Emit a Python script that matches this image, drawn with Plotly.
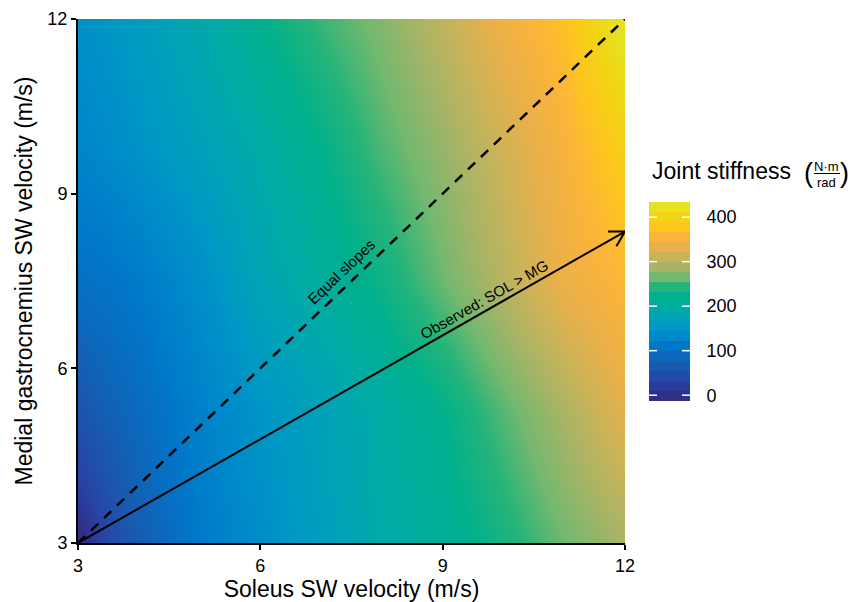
import numpy as np
import plotly.graph_objects as go

# ---------------- data ----------------
sol_velocity = [3, 3.5, 4, 5, 6, 7, 8, 9, 10, 11, 12]          # x (m/s)
mg_velocity = [3, 4, 5.25, 7.5, 9.75, 12]                      # y (m/s)
stiffness = [                                                  # N·m/rad
    [-13, 40, 70, 112, 140, 165, 192, 210, 235, 265, 292],
    [25, 55, 80, 118, 145, 170, 196, 215, 245, 278, 308],
    [55, 75, 90, 122, 150, 172, 198, 222, 258, 292, 330],
    [100, 105, 114, 142, 178, 205, 230, 265, 300, 338, 360],
    [128, 136, 147, 170, 195, 222, 255, 282, 315, 350, 392],
    [142, 152, 164, 190, 220, 250, 274, 305, 342, 372, 434],
]
axis_ticks = [3, 6, 9, 12]
cbar_ticks = [0, 100, 200, 300, 400]
equal_x = [3, 12]
equal_y = [3, 12]
observed_x = [3, 12]
observed_y = [3, 8.35]
equal_label = "Equal slopes"
observed_label = "Observed: SOL > MG"

# parula-like band colours, bottom -> top
band_colors = ["#322e84", "#2c3c9c", "#244aa8", "#185ab0", "#0c68bc",
               "#0078c8", "#0088ca", "#0098c4", "#00a4b6", "#00aca2",
               "#00b08c", "#26b47a", "#72b86f", "#a5b467", "#c9b359",
               "#e9b04a", "#fbb43a", "#fdc61e", "#f2d414", "#e6e21f"]

zmin = float(np.min(stiffness))
zmax = float(np.max(stiffness))
nb = len(band_colors)
smooth_scale = [[0.0, band_colors[0]]]
for i, c in enumerate(band_colors):
    smooth_scale.append([(i + 0.5) / nb, c])
smooth_scale.append([1.0, band_colors[-1]])
step_scale = []
for i, c in enumerate(band_colors):
    step_scale.append([i / nb, c])
    step_scale.append([(i + 1) / nb, c])
band_centers = [zmin + (i + 0.5) * (zmax - zmin) / nb for i in range(nb)]

FONT = "Liberation Sans, Arial, Helvetica, sans-serif"
W, H = 848, 602
ML, MR, MT, MB = 78, 0, 19, 59
PW, PH = W - ML - MR, H - MT - MB
MAIN_W = 547                       # plot area width in px
xr = [3, 12]
yr = [3, 12]
ppx = MAIN_W / (xr[1] - xr[0])
ppy = PH / (yr[1] - yr[0])


def px2paper(px, py):
    return (px - ML) / PW, (H - MB - py) / PH


fig = go.Figure()
fig.add_trace(go.Heatmap(x=sol_velocity, y=mg_velocity, z=stiffness,
                         zsmooth="best", zmin=zmin, zmax=zmax,
                         colorscale=smooth_scale, showscale=False,
                         hoverinfo="skip"))

# colour bar drawn as its own banded heatmap on a side axis
CB_LEFT, CB_BOTTOM, CB_W, CB_TOP = 649, 401, 41, 202
cx0, cy0 = px2paper(CB_LEFT, CB_BOTTOM)
cx1, cy1 = px2paper(CB_LEFT + CB_W, CB_TOP)
fig.add_trace(go.Heatmap(x=[0], y=band_centers, z=[[v] for v in band_centers],
                         zmin=zmin, zmax=zmax, colorscale=step_scale, showscale=False,
                         xaxis="x2", yaxis="y2", hoverinfo="skip"))

# equal slopes (dashed)
fig.add_trace(go.Scatter(x=equal_x, y=equal_y, mode="lines", showlegend=False,
                         line=dict(color="black", width=2.5, dash="10px,8px"),
                         hoverinfo="skip"))
# observed (arrow)
fig.add_trace(go.Scatter(x=observed_x, y=observed_y, mode="lines", showlegend=False,
                         line=dict(color="black", width=2), hoverinfo="skip"))
# open arrow head
dxp = (observed_x[1] - observed_x[0]) * ppx
dyp = (observed_y[1] - observed_y[0]) * ppy
ang = np.arctan2(dyp, dxp) + np.pi
L = 17
hx, hy = [], []
for s in (-1, 1):
    a = ang + s * np.pi / 6
    hx.append(observed_x[1] + L * np.cos(a) / ppx)
    hy.append(observed_y[1] + L * np.sin(a) / ppy)
fig.add_trace(go.Scatter(x=[hx[0], observed_x[1], hx[1]], y=[hy[0], observed_y[1], hy[1]],
                         mode="lines", showlegend=False,
                         line=dict(color="black", width=2), hoverinfo="skip"))

# line labels
eq_ang = np.degrees(np.arctan2((equal_y[1] - equal_y[0]) * ppy, (equal_x[1] - equal_x[0]) * ppx))
ob_ang = np.degrees(np.arctan2(dyp, dxp))
fig.add_annotation(x=7.48, y=7.48, text=equal_label, showarrow=False,
                   textangle=-eq_ang, xshift=-9, yshift=11,
                   font=dict(family=FONT, size=15, color="black"))
fig.add_annotation(x=9.76, y=3 + (9.76 - 3) * (observed_y[1] - 3) / 9, text=observed_label,
                   showarrow=False, textangle=-ob_ang, xshift=-5, yshift=10,
                   font=dict(family=FONT, size=15, color="black"))

# colorbar title built from annotations
tx, ty = px2paper(650, 171)
fig.add_annotation(xref="paper", yref="paper", x=tx, y=ty, text="Joint stiffness",
                   showarrow=False, xanchor="left", yanchor="middle",
                   font=dict(family=FONT, size=23, color="black"))
for ch, cxp in (("(", 808), (")", 844)):
    px_, py_ = px2paper(cxp, 173)
    fig.add_annotation(xref="paper", yref="paper", x=px_, y=py_, text=ch, showarrow=False,
                       xanchor="center", yanchor="middle",
                       font=dict(family=FONT, size=27, color="black"))
nx, ny = px2paper(826.5, 166)
fig.add_annotation(xref="paper", yref="paper", x=nx, y=ny, text="N·m", showarrow=False,
                   xanchor="center", yanchor="middle",
                   font=dict(family=FONT, size=13, color="black"))
rx, ry = px2paper(826.5, 182)
fig.add_annotation(xref="paper", yref="paper", x=rx, y=ry, text="rad", showarrow=False,
                   xanchor="center", yanchor="middle",
                   font=dict(family=FONT, size=13, color="black"))
l0x, l0y = px2paper(814, 173.5)
l1x, _ = px2paper(840, 173.5)
fig.add_shape(type="line", xref="paper", yref="paper", x0=l0x, x1=l1x, y0=l0y, y1=l0y,
              line=dict(color="black", width=1))

# white tick marks on both edges of the colour bar
frac = 8 / CB_W
for v in cbar_ticks:
    for a0, a1 in ((0, frac), (1 - frac, 1)):
        fig.add_shape(type="line", xref="x2 domain", yref="y2", x0=a0, x1=a1, y0=v, y1=v,
                      line=dict(color="white", width=1.5), layer="above")

axis_common = dict(tickvals=axis_ticks, ticks="outside", ticklen=5, tickwidth=2,
                   tickcolor="black", showline=True, linewidth=2, linecolor="black",
                   showgrid=False, zeroline=False, mirror=False,
                   tickfont=dict(family=FONT, size=18, color="black"))
fig.update_layout(
    xaxis=dict(domain=[0, MAIN_W / PW], range=xr,
               title=dict(text="Soleus SW velocity (m/s)", standoff=6,
                          font=dict(family=FONT, size=23, color="black")),
               **axis_common),
    yaxis=dict(domain=[0, 1], range=yr,
               title=dict(text="Medial gastrocnemius SW velocity (m/s)", standoff=8,
                          font=dict(family=FONT, size=23, color="black")),
               **axis_common),
    xaxis2=dict(domain=[cx0, cx1], anchor="y2", range=[-0.5, 0.5], showticklabels=False,
                showgrid=False, zeroline=False, showline=False, ticks=""),
    yaxis2=dict(domain=[cy0, cy1], anchor="x2", side="right", range=[zmin, zmax],
                tickvals=cbar_ticks, ticks="outside", ticklen=12,
                tickcolor="rgba(0,0,0,0)", showgrid=False, zeroline=False, showline=False,
                tickfont=dict(family=FONT, size=18, color="black")),
)
fig.update_layout(width=W, height=H, margin=dict(l=ML, r=MR, t=MT, b=MB, autoexpand=False),
                  paper_bgcolor="white", plot_bgcolor="white", showlegend=False,
                  font=dict(family=FONT, color="black"))
fig.write_html("out.html")
